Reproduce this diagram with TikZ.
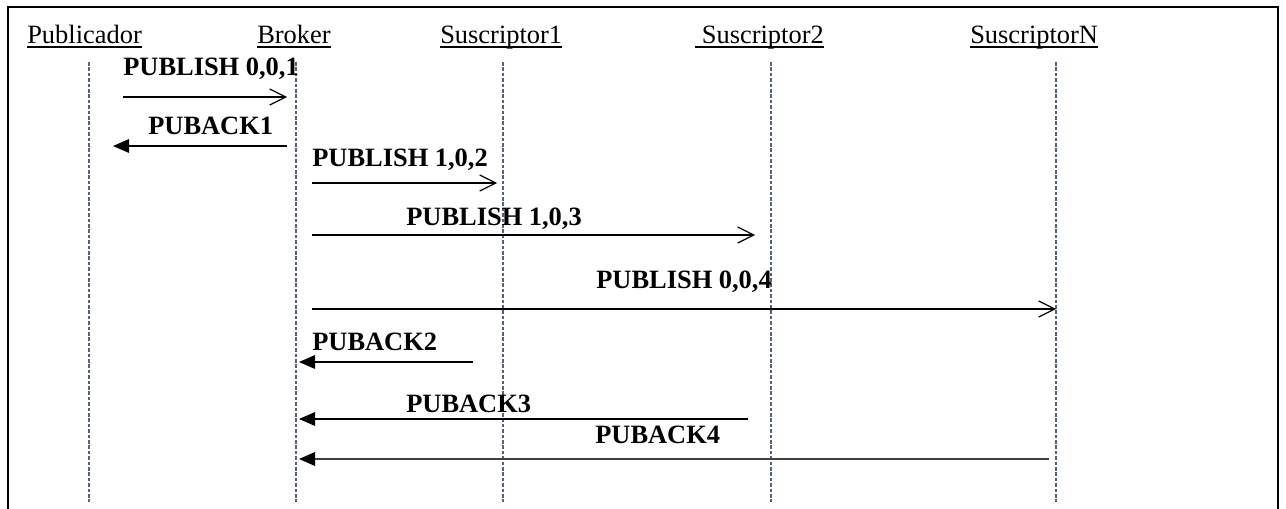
\documentclass[tikz,border=0pt]{standalone}
\usepackage{fontspec}
\setmainfont{Liberation Serif}
\usepackage{tikz}
\usetikzlibrary{arrows.meta}
\usepackage{xcolor}
\definecolor{lifeblue}{RGB}{84,98,124}
\definecolor{ackgray}{RGB}{64,64,64}
\tikzset{
  actor/.style={anchor=base west, inner sep=0pt, font=\fontsize{18.8}{22}\selectfont},
  msg/.style={anchor=base west, inner sep=0pt, font=\fontsize{18.8}{22}\selectfont\bfseries},
  uline/.style={line width=0.35mm},
  life/.style={draw=lifeblue, line width=0.3mm, dash pattern=on 0.9mm off 0.45mm},
  pubarr/.style={-{Straight Barb[length=4mm,width=4mm]}, line width=0.3mm},
  ackarr/.style={-{Triangle[length=4mm,width=3.4mm,color=black]}, line width=0.3mm},
}

\begin{document}
\begin{tikzpicture}[x=0.25mm, y=-0.25mm]
  \useasboundingbox (0,0) rectangle (1286,509);
  % Frame
  \draw[line width=0.4mm] (8,509) -- (8,7) -- (1278,7) -- (1278,509);

  % Actors
  \node[actor] (pub) at (27,44) {Publicador};
  \node[actor] (bro) at (257,44) {Broker};
  \node[actor] (s1) at (440,44) {Suscriptor1};
  \node[actor] (s2) at (695,44) {\ Suscriptor2};
  \node[actor] (sn) at (970,44) {SuscriptorN\ };
  \foreach \n in {pub,bro,s1,s2,sn}
    \draw[uline] ([yshift=-0.75mm]\n.base west) -- ([yshift=-0.75mm]\n.base east);

  % Lifelines
  \foreach \n/\x in {pub/89, bro/296, s1/503, s2/771, sn/1056} {
    \coordinate (\n top) at (\x,62);
    \coordinate (\n bot) at (\x,502);
    \draw[life] (\n top) -- (\n bot);
  }

  % Message ends
  \coordinate (m1a) at (123,97);  \coordinate (m1b) at (287,97);
  \coordinate (m2a) at (287,146); \coordinate (m2b) at (113,146);
  \coordinate (m3a) at (312,183); \coordinate (m3b) at (497,183);
  \coordinate (m4a) at (312,235); \coordinate (m4b) at (755,235);
  \coordinate (m5a) at (312,309); \coordinate (m5b) at (1056,309);
  \coordinate (m6a) at (473,362); \coordinate (m6b) at (299,362);
  \coordinate (m7a) at (748,419); \coordinate (m7b) at (299,419);
  \coordinate (m8a) at (1049,459); \coordinate (m8b) at (299,459);

  % Labels
  \node[msg] (l1) at (123,76) {PUBLISH 0,0,1};
  \node[msg] (l2) at (148,135) {PUBACK1};
  \node[msg] (l3) at (312,167) {PUBLISH 1,0,2};
  \node[msg] (l4) at (406,225) {PUBLISH 1,0,3};
  \node[msg] (l5) at (596,288) {PUBLISH 0,0,4};
  \node[msg] (l6) at (312,350) {PUBACK2};
  \node[msg] (l7) at (406,412) {PUBACK3};
  \node[msg] (l8) at (595,443) {PUBACK4};

  % Connections
  \draw[pubarr] (m1a) -- (m1b);
  \draw[ackarr] (m2a) -- (m2b);
  \draw[pubarr] (m3a) -- (m3b);
  \draw[pubarr] (m4a) -- (m4b);
  \draw[pubarr] (m5a) -- (m5b);
  \draw[ackarr] (m6a) -- (m6b);
  \draw[ackarr] (m7a) -- (m7b);
  \draw[ackarr, draw=ackgray, line width=0.4mm] (m8a) -- (m8b);
\end{tikzpicture}
\end{document}
